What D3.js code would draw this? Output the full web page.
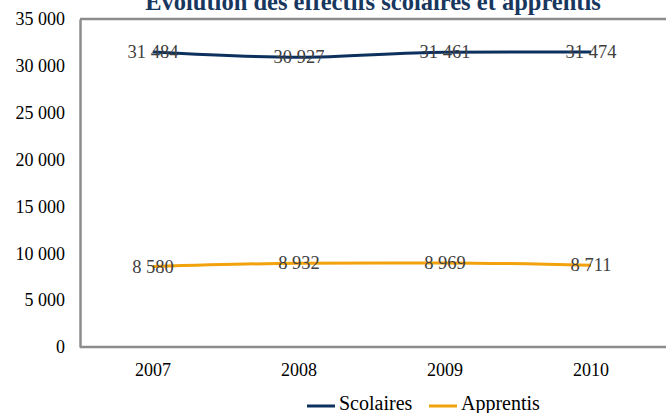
<!DOCTYPE html>
<html><head><meta charset="utf-8">
<script src="https://cdn.jsdelivr.net/npm/d3@7"></script>
<style>
body{margin:0;background:#fff;}
svg{display:block;}
svg text{font-family:"Liberation Serif","DejaVu Serif",serif;}
</style></head>
<body><svg id="c" width="666" height="413"></svg>
<script>
const title = "Évolution des effectifs scolaires et apprentis";
const years = ["2007","2008","2009","2010"];
const scolaires = [31484, 30927, 31461, 31474];
const apprentis = [8580, 8932, 8969, 8711];
const yTicks = [0,5000,10000,15000,20000,25000,30000,35000];
const seriesNames = ["Scolaires","Apprentis"];
const seriesColors = ["#0D315E","#F2A20C"];

(function(){
const svg = d3.select("#c");
const pL = 80, pR = 664, pT = 19, pB = 347;
const x = d3.scaleBand().domain(years).range([pL, pR]);
const y = d3.scaleLinear().domain([0,35000]).range([pB, pT]);
const fmt = v => d3.format(",")(v).replace(/,/g, " ");

// frame
svg.append("line").attr("x1",pL).attr("x2",666).attr("y1",pT).attr("y2",pT)
  .attr("stroke","#8c8c8c").attr("stroke-width",2.5);

// y axis
const ya = svg.append("g").attr("transform",`translate(${pL},0)`)
  .call(d3.axisLeft(y).tickValues(yTicks).tickFormat(fmt).tickSize(0).tickPadding(15));
ya.select(".domain").attr("stroke","#8c8c8c").attr("stroke-width",2.5);
ya.selectAll("text").attr("font-size",18).attr("fill","#000");

// x axis
const xa = svg.append("g").attr("transform",`translate(0,${pB})`)
  .call(d3.axisBottom(x).tickSize(0).tickPadding(16));
xa.select(".domain").attr("stroke","#8c8c8c").attr("stroke-width",2.5).attr("d",`M${pL},0H666`);
xa.selectAll("text").attr("font-size",18).attr("fill","#000");

const cx = d => x(d) + x.bandwidth()/2;
const line = d3.line().x((d,i)=>cx(years[i])).y(d=>y(d)).curve(d3.curveMonotoneX);

[scolaires, apprentis].forEach((s, k) => {
  svg.append("path").datum(s).attr("d", line).attr("fill","none")
    .attr("stroke", seriesColors[k]).attr("stroke-width",3);
  svg.append("g").selectAll("text").data(s).join("text")
    .attr("x",(d,i)=>cx(years[i])).attr("y",d=>y(d)+6)
    .attr("text-anchor","middle").attr("font-size",18.5).attr("fill","#404040")
    .text(fmt);
});

// title
svg.append("text").attr("x",373).attr("y",10).attr("text-anchor","middle")
  .attr("font-size",24.5).attr("font-weight","bold").attr("fill","#17375E").text(title);

// legend
const lg = svg.append("g");
const lx = [307, 429];
seriesNames.forEach((n,k)=>{
  lg.append("line").attr("x1",lx[k]).attr("x2",lx[k]+28).attr("y1",406).attr("y2",406)
    .attr("stroke",seriesColors[k]).attr("stroke-width",3);
  lg.append("text").attr("x",lx[k]+32).attr("y",410).attr("font-size",20).attr("fill","#000").text(n);
});
})();
</script></body></html>
